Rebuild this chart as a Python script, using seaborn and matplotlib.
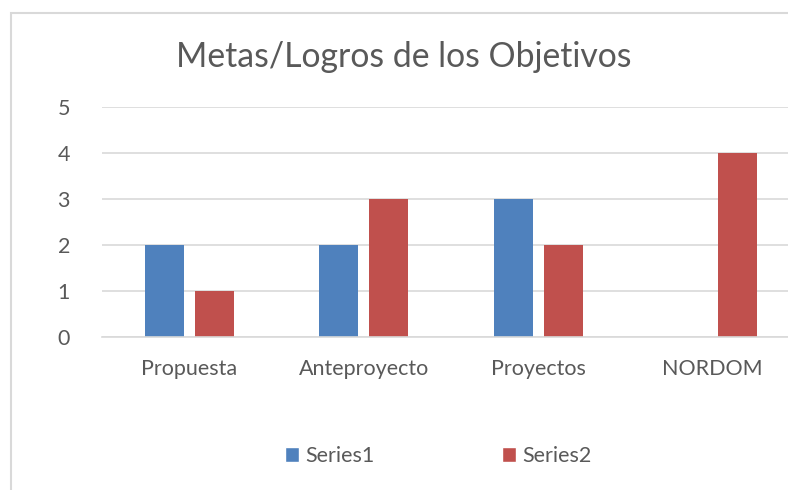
import pandas as pd
import matplotlib
matplotlib.use("Agg")
import matplotlib.pyplot as plt
from matplotlib.patches import Rectangle, Patch
import seaborn as sns

categorias = ["Propuesta", "Anteproyecto", "Proyectos", "NORDOM"]
series1 = [2, 2, 3, 0]
series2 = [1, 3, 2, 4]
nombres_series = ["Series1", "Series2"]
colores = ["#4F81BD", "#C0504D"]
ticks_y = [0, 1, 2, 3, 4, 5]

df = pd.DataFrame({
    "categoria": categorias * 2,
    "valor": series1 + series2,
    "serie": [nombres_series[0]] * len(categorias) + [nombres_series[1]] * len(categorias),
})

sns.set_style("white")
plt.rcParams["font.family"] = ["Lato", "DejaVu Sans"]
gris_texto = "#595959"
gris_linea = "#D9D9D9"

fig = plt.figure(figsize=(7.88, 4.90), dpi=100)
ax = fig.add_axes([102 / 788, 1 - 337 / 490, 698 / 788, 230 / 490])

sns.barplot(data=df, x="categoria", y="valor", hue="serie", palette=colores,
            saturation=1, width=0.57, gap=0.22, linewidth=0, ax=ax, legend=False)

ax.set_ylim(0, 5)
ax.set_yticks(ticks_y)
ax.yaxis.grid(True, color=gris_linea, linewidth=1.2)
ax.set_axisbelow(True)
for lado in ["top", "right", "left"]:
    ax.spines[lado].set_visible(False)
ax.spines["bottom"].set_color(gris_linea)
ax.spines["bottom"].set_linewidth(1.2)
ax.set_xlabel("")
ax.set_ylabel("")
ax.tick_params(axis="both", length=0, colors=gris_texto, labelsize=15.5)
ax.tick_params(axis="y", pad=23)
ax.tick_params(axis="x", pad=16)

fig.text(404 / 788, 1 - 57 / 490, "Metas/Logros de los Objetivos", ha="center", va="center",
         fontsize=24.3, color=gris_texto)

manejadores = [Patch(facecolor=c, label=n) for c, n in zip(colores, nombres_series)]
fig.legend(handles=manejadores, loc="center", bbox_to_anchor=(438 / 788, 1 - 456 / 490),
           ncol=2, frameon=False, fontsize=15.5, labelcolor=gris_texto,
           handlelength=0.65, handleheight=0.65, handletextpad=0.3, columnspacing=5.9)

fig.patches.append(Rectangle((11 / 788, -0.1), 1.2, 1.1 - 13 / 490, transform=fig.transFigure,
                             fill=False, edgecolor=gris_linea, linewidth=1.5))

fig.savefig("out.png", dpi=100)
